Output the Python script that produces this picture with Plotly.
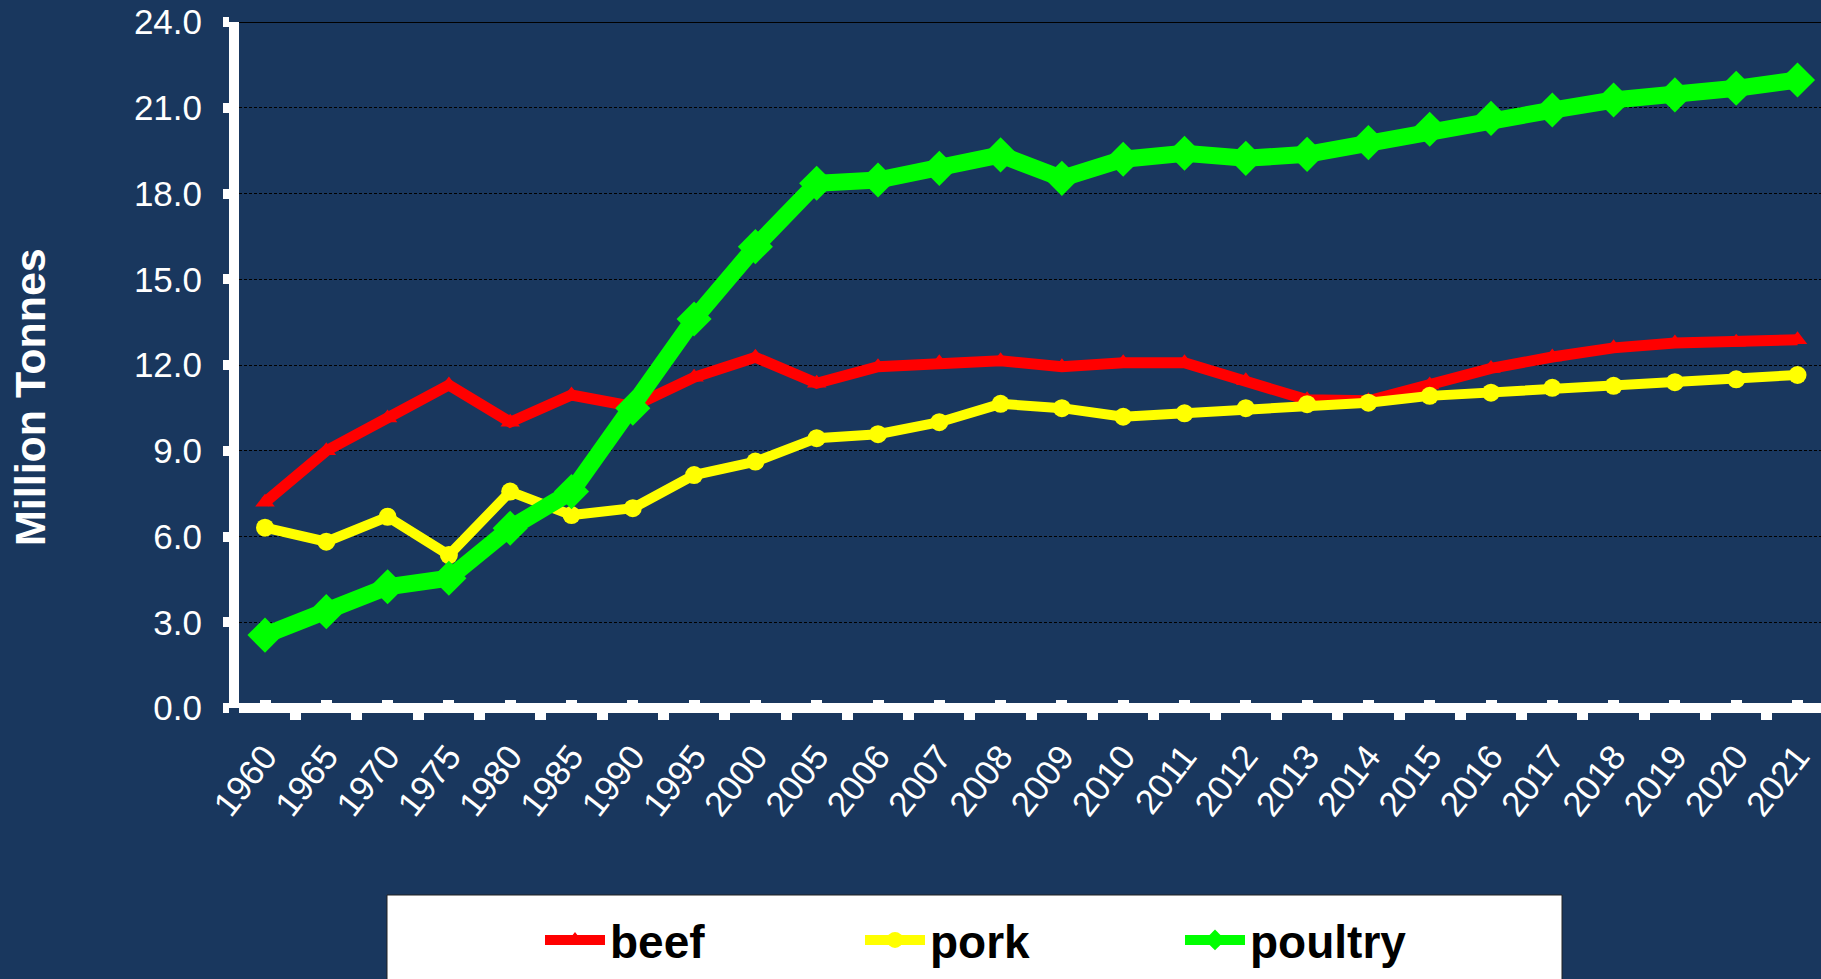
import plotly.graph_objects as go

years = ["1960", "1965", "1970", "1975", "1980", "1985", "1990", "1995", "2000", "2005",
         "2006", "2007", "2008", "2009", "2010", "2011", "2012", "2013", "2014", "2015",
         "2016", "2017", "2018", "2019", "2020", "2021"]
beef = [7.2, 9.0, 10.15, 11.3, 10.0, 10.95, 10.55, 11.57, 12.27, 11.36, 11.94, 12.08, 12.15,
        11.94, 12.08, 12.08, 11.45, 10.78, 10.75, 11.3, 11.88, 12.28, 12.6, 12.77, 12.8, 12.88]
pork = [6.31, 5.82, 6.69, 5.35, 7.57, 6.75, 6.99, 8.15, 8.62, 9.44, 9.58, 10.0, 10.64,
        10.49, 10.19, 10.31, 10.49, 10.63, 10.68, 10.92, 11.03, 11.2, 11.27, 11.4, 11.5, 11.65]
poultry = [2.55, 3.37, 4.24, 4.54, 6.29, 7.57, 10.49, 13.61, 16.14, 18.36, 18.47, 18.88, 19.35,
           18.53, 19.2, 19.41, 19.23, 19.37, 19.78, 20.25, 20.63, 20.92, 21.27, 21.45, 21.68, 21.97]
y_ticks = [0, 3, 6, 9, 12, 15, 18, 21, 24]

pos = list(range(len(years)))
bounds = [i + 0.5 for i in range(len(years))]

W, H = 1821, 979
ML, MT, MB = 239, 22, 271
PW = W - ML
PH = H - MT - MB

BG = "#19375E"
FONT = "Arial, Liberation Sans, sans-serif"

fig = go.Figure()
fig.add_trace(go.Scatter(x=pos, y=beef, name="beef", mode="lines+markers",
                         line=dict(color="#FF0000", width=11),
                         marker=dict(symbol="triangle-up", size=17, color="#FF0000")))
fig.add_trace(go.Scatter(x=pos, y=pork, name="pork", mode="lines+markers",
                         line=dict(color="#FFFF00", width=10),
                         marker=dict(symbol="circle", size=18, color="#FFFF00")))
fig.add_trace(go.Scatter(x=pos, y=poultry, name="poultry", mode="lines+markers",
                         line=dict(color="#00FF00", width=17),
                         marker=dict(symbol="diamond", size=27, color="#00FF00")))

x0 = -26 / 61.3
x1 = x0 + PW / 61.3

fig.update_layout(
    width=W, height=H,
    margin=dict(l=ML, r=0, t=MT, b=MB, pad=0),
    paper_bgcolor=BG, plot_bgcolor=BG,
    font=dict(family=FONT, color="white"),
    showlegend=True,
    legend=dict(orientation="h", xref="container", yref="container",
                x=540 / W, xanchor="left", y=1 - 940 / H, yanchor="middle",
                bgcolor="rgba(0,0,0,0)", borderwidth=0,
                font=dict(family=FONT, size=46, color="black", weight="bold"),
                entrywidth=245, entrywidthmode="pixels", itemwidth=60,
                traceorder="normal"),
    xaxis=dict(range=[x0, x1], showgrid=False, zeroline=False, showline=False,
               tickmode="array", tickvals=pos, ticktext=years,
               ticks="inside", ticklen=8, tickwidth=11, tickcolor="white",
               tickangle=-52, tickfont=dict(family=FONT, size=35, color="white"),
               ticklabelstandoff=20,
               minor=dict(tickmode="array", tickvals=bounds, ticks="outside",
                          ticklen=11, tickwidth=11, tickcolor="white", showgrid=False)),
    yaxis=dict(range=[0, 24], tickmode="array", tickvals=y_ticks,
               ticktext=[f"{v:.1f}" for v in y_ticks],
               showgrid=True, gridcolor="black", gridwidth=1, griddash="3px,2px",
               zeroline=True, zerolinecolor="white", zerolinewidth=10,
               showline=True, linecolor="white", linewidth=10,
               ticks="outside", ticklen=6, tickwidth=10, tickcolor="white",
               tickfont=dict(family=FONT, size=35, color="white"),
               ticklabelstandoff=14),
)

fig.add_shape(type="line", xref="paper", yref="y", x0=0, x1=1, y0=24, y1=24,
              line=dict(color="black", width=2), layer="below")
fig.add_shape(type="rect", xref="paper", yref="paper",
              x0=(387 - ML) / PW, x1=(1562 - ML) / PW,
              y0=-(H + 20 - 708) / PH, y1=-(895 - 708) / PH,
              fillcolor="white", line=dict(color="#222222", width=1), layer="above")

fig.add_annotation(text="<b>Million Tonnes</b>", xref="paper", yref="paper",
                   x=(30 - ML) / PW, y=(708 - 397) / PH, xanchor="center", yanchor="middle",
                   textangle=-90, showarrow=False,
                   font=dict(family=FONT, size=43, color="white"))

fig.write_html("out.html", config={"displayModeBar": False},
               post_script="document.body.style.margin='0';document.body.style.overflow='hidden';")
